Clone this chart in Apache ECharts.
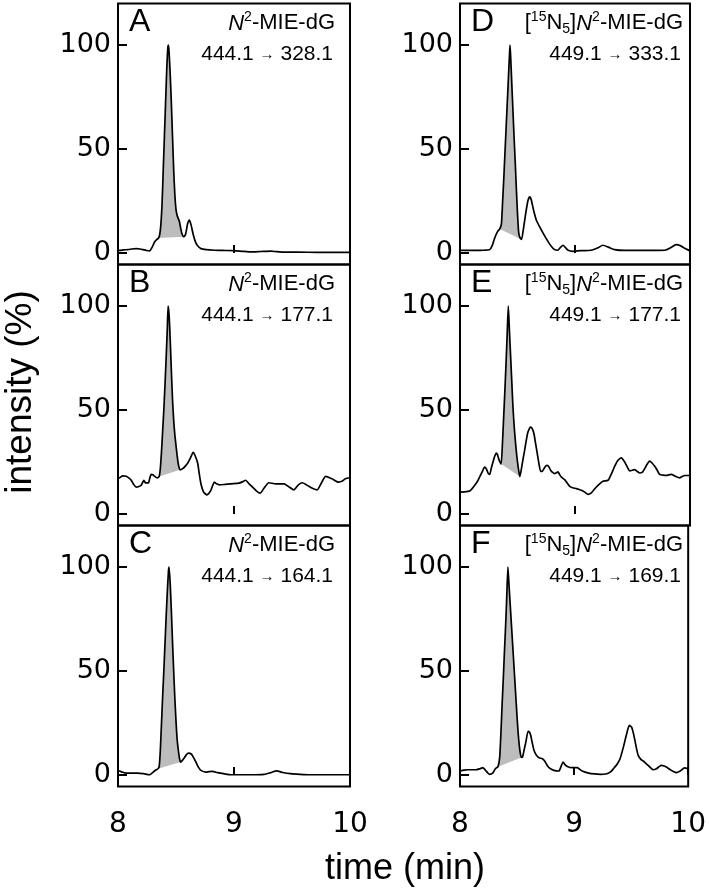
<!DOCTYPE html>
<html><head><meta charset="utf-8">
<script src="https://cdn.jsdelivr.net/npm/echarts@6/dist/echarts.min.js"></script>
<style>html,body{margin:0;padding:0;background:#fff}#c{width:709px;height:891px}</style>
</head><body><div id="c"></div>
<script>
// ---------- data (time in min, intensity in %) ----------
const traceA = [[8.00,1.4],[8.014,1.25],[8.05,1.5],[8.086,1.6],[8.12,1.9],[8.157,2.1],[8.19,1.9],[8.215,1.6],[8.245,1.2],[8.272,1.0],[8.295,2.8],[8.315,5.3],[8.335,6.5],[8.35,7.2],[8.36,9],[8.37,14],[8.38,24],[8.39,40],[8.40,56],[8.41,72],[8.42,88],[8.43,99],[8.435,100],[8.44,97],[8.45,86],[8.46,72],[8.47,56],[8.48,40],[8.49,28],[8.50,21],[8.51,18],[8.52,16.5],[8.53,15],[8.54,12],[8.55,9.5],[8.565,7.8],[8.58,8.6],[8.59,11],[8.60,14],[8.615,15.8],[8.63,13.5],[8.65,8.5],[8.67,5],[8.69,3.2],[8.715,2.1],[8.76,1.6],[8.83,1.3],[8.9,1.2],[9.0,1.1],[9.07,0.8],[9.144,0.5],[9.23,0.7],[9.316,0.9],[9.37,0.6],[9.43,0.4],[9.55,0.4],[9.72,0.3],[9.85,0.3],[10.0,0.3]];
const traceB = [[8.0,17.2],[8.014,17.4],[8.04,18.3],[8.072,18.1],[8.095,17.2],[8.114,16.2],[8.135,14.2],[8.157,12.9],[8.18,13.2],[8.2,13.8],[8.215,15.5],[8.223,16.2],[8.233,15.2],[8.243,14.9],[8.263,15.0],[8.275,17.5],[8.286,19.0],[8.30,18.8],[8.315,18.1],[8.338,17.4],[8.355,18],[8.365,22],[8.375,30],[8.385,40],[8.395,50],[8.405,62],[8.415,75],[8.425,89],[8.432,100],[8.44,96],[8.45,84],[8.46,69],[8.47,55],[8.48,45],[8.49,38],[8.50,33],[8.51,28],[8.52,24],[8.535,21.2],[8.558,21.8],[8.58,23],[8.60,24.4],[8.625,27],[8.648,29.6],[8.665,28],[8.687,24.4],[8.70,19.5],[8.715,14.5],[8.738,10.5],[8.767,9.2],[8.785,10],[8.80,11.3],[8.815,13.5],[8.83,15.3],[8.85,14.5],[8.873,14],[8.92,14.2],[8.973,14.5],[9.044,14.8],[9.075,15.5],[9.1,16.2],[9.13,14.5],[9.16,12.9],[9.195,11],[9.225,10],[9.26,12.5],[9.30,15],[9.36,14.5],[9.43,14.5],[9.475,13],[9.516,11.6],[9.555,14],[9.588,15],[9.645,13.3],[9.68,12.2],[9.717,11.6],[9.75,14.5],[9.79,18.1],[9.845,16.9],[9.9,15.3],[9.935,15.8],[9.96,16.9],[10.0,17.4]];
const traceC = [[8.0,2.0],[8.014,1.9],[8.04,1.3],[8.07,0.9],[8.12,0.9],[8.17,0.9],[8.22,0.6],[8.272,0.1],[8.295,1.0],[8.315,1.9],[8.33,2.5],[8.345,3.0],[8.355,4],[8.365,12],[8.375,25],[8.385,38],[8.395,50],[8.405,63],[8.415,76],[8.425,88],[8.435,98],[8.44,100],[8.45,92],[8.46,79],[8.47,64],[8.48,50],[8.49,37],[8.50,26],[8.51,17],[8.52,12],[8.53,8],[8.54,6.2],[8.555,7],[8.572,8.3],[8.59,9.8],[8.607,10.5],[8.62,10.4],[8.635,9.9],[8.655,8],[8.672,6.2],[8.69,4],[8.715,2.2],[8.758,1.4],[8.785,1.6],[8.815,1.7],[8.858,1.1],[8.92,0.5],[8.973,0.1],[9.06,0.1],[9.144,0.1],[9.26,0.3],[9.31,1.0],[9.368,2.0],[9.42,1.2],[9.488,0.6],[9.57,0.3],[9.66,0.1],[9.8,0.1],[10.0,0.1]];
const traceD = [[8.0,1.3],[8.05,1.25],[8.10,1.2],[8.157,1.25],[8.21,1.3],[8.258,1.6],[8.28,3.5],[8.30,6.9],[8.315,9.0],[8.33,10.6],[8.345,11.5],[8.36,14],[8.37,24],[8.38,35],[8.39,47],[8.40,59],[8.41,71],[8.42,83],[8.43,95],[8.435,100],[8.44,95],[8.45,82],[8.46,69],[8.47,56],[8.48,44],[8.49,31],[8.50,19],[8.51,10],[8.52,7.5],[8.535,6.5],[8.55,11],[8.57,18.5],[8.59,25],[8.606,27],[8.62,25.5],[8.64,20.5],[8.664,15.7],[8.693,12.5],[8.72,9.8],[8.75,6.9],[8.79,3.5],[8.823,1.6],[8.85,1.3],[8.875,2.8],[8.896,3.7],[8.92,2.4],[8.94,1.3],[8.98,0.8],[9.05,1.1],[9.14,1.3],[9.2,2.5],[9.243,3.7],[9.29,2.8],[9.345,1.6],[9.43,1.2],[9.52,1.25],[9.65,1.2],[9.78,1.3],[9.83,2.5],[9.88,4.0],[9.92,3.4],[9.95,2.4],[10.0,1.0]];
const traceE = [[8.0,10.5],[8.04,10.6],[8.084,11.0],[8.105,12.2],[8.128,13.8],[8.15,15.5],[8.171,17.8],[8.195,20.5],[8.214,22.5],[8.229,21.7],[8.245,19.5],[8.258,19.0],[8.272,22],[8.287,25.0],[8.30,27.5],[8.316,29.3],[8.326,28.5],[8.336,26.6],[8.347,25],[8.358,24.0],[8.37,35],[8.38,47],[8.39,59],[8.40,72],[8.41,86],[8.42,100],[8.43,88],[8.44,76],[8.45,64],[8.46,52],[8.47,43],[8.48,36],[8.49,30],[8.50,25],[8.51,21],[8.52,18],[8.535,22],[8.55,27],[8.562,30.6],[8.575,35],[8.591,39.4],[8.614,41.8],[8.628,41],[8.643,38.6],[8.657,34],[8.672,29],[8.687,24],[8.701,20.5],[8.715,20.5],[8.73,21.8],[8.745,23],[8.759,23.4],[8.775,22.5],[8.788,21],[8.805,20],[8.823,19.4],[8.838,19.8],[8.852,20.2],[8.866,19],[8.88,17.8],[8.91,16.5],[8.93,15],[8.954,13.3],[8.98,12.6],[9.012,12.2],[9.055,11.4],[9.085,10.5],[9.113,9.4],[9.142,10.1],[9.17,12],[9.2,13.8],[9.243,15.7],[9.287,16.2],[9.31,18.5],[9.33,21],[9.35,23.5],[9.374,25.8],[9.403,27.0],[9.432,25],[9.455,22.5],[9.475,20.7],[9.497,21],[9.519,21.3],[9.54,20.5],[9.562,19.7],[9.585,20],[9.606,21.8],[9.628,24],[9.649,25.4],[9.67,24.5],[9.693,22.9],[9.715,21],[9.736,19],[9.765,18.7],[9.794,18.5],[9.815,18.8],[9.838,19],[9.87,18.2],[9.91,17.4],[9.93,18],[9.954,18.5],[10.0,18.5]];
const traceF = [[8.0,1.9],[8.035,2.3],[8.07,2.5],[8.142,2.5],[8.175,3.0],[8.2,3.5],[8.215,2.8],[8.229,1.9],[8.245,0.9],[8.258,0.3],[8.287,0.9],[8.31,3.0],[8.333,4.0],[8.348,8.6],[8.36,22],[8.37,35],[8.38,47],[8.39,60],[8.40,72],[8.41,86],[8.42,100],[8.43,91],[8.44,82],[8.45,73],[8.46,64],[8.47,55],[8.48,46],[8.49,37],[8.50,28],[8.51,20],[8.52,14],[8.53,10],[8.538,8.4],[8.548,8.6],[8.562,12],[8.577,15.8],[8.597,21],[8.61,20.5],[8.62,19],[8.635,15],[8.649,11.8],[8.67,9.5],[8.693,8.3],[8.722,7.8],[8.742,6.7],[8.76,5],[8.78,3.5],[8.823,2.2],[8.867,1.9],[8.885,4],[8.904,6.2],[8.92,5],[8.94,4.1],[8.983,3.5],[9.026,3.5],[9.05,2.7],[9.07,1.9],[9.128,0.9],[9.18,0.5],[9.229,0.3],[9.287,0.6],[9.32,1.5],[9.345,3.0],[9.375,5],[9.403,7.8],[9.432,13.4],[9.461,19.8],[9.484,23.8],[9.504,23],[9.52,20],[9.533,16.6],[9.548,12.5],[9.562,9.4],[9.585,7.5],[9.606,6.7],[9.63,5.5],[9.649,4.6],[9.67,3.5],[9.693,2.5],[9.722,3.0],[9.745,4],[9.765,4.6],[9.79,4.3],[9.809,3.8],[9.83,3],[9.852,2.2],[9.875,1.5],[9.896,1.1],[9.93,1.9],[9.968,3.4],[10.0,3.0]];

// integrated peak windows [start, end] (min)
const shadeA = [8.35, 8.565];
const shadeB = [8.355, 8.535];
const shadeC = [8.345, 8.54];
const shadeD = [8.345, 8.535];
const shadeE = [8.358, 8.52];
const shadeF = [8.333, 8.538];

const xTicks = [8, 9, 10];
const yTicks = [0, 50, 100];
const letters = ['A', 'B', 'C', 'D', 'E', 'F'];
const analyteUnlabeled = '{it|N}{sup|2}-MIE-dG';
const analyteLabeled = '[{sup|15}N{sub|5}]{it|N}{sup|2}-MIE-dG';
const transitions = ['444.1 {ar|→} 328.1', '444.1 {ar|→} 177.1', '444.1 {ar|→} 164.1', '449.1 {ar|→} 333.1', '449.1 {ar|→} 177.1', '449.1 {ar|→} 169.1'];
const xAxisName = 'time (min)';
const yAxisName = 'intensity (%)';

// ---------- layout ----------
const FONT = '"Liberation Sans", Arial, sans-serif';
const TICKFONT = '"DejaVu Sans", sans-serif';
const traces = [traceA, traceB, traceC, traceD, traceE, traceF];
const shades = [shadeA, shadeB, shadeC, shadeD, shadeE, shadeF];
const colLeft = [118, 460], colWidth = [232, 230];
const rowTop = [3.4, 264.4, 525.4], rowH = 261;

const grids = [], xAxes = [], yAxes = [], series = [], graphics = [];
for (let i = 0; i < 6; i++) {
  const col = Math.floor(i / 3), row = i % 3;
  const top = rowTop[row];
  grids.push({left: colLeft[col], top: top, width: colWidth[col], height: rowH,
    show: true, borderColor: '#000', borderWidth: 2, backgroundColor: 'transparent'});
  xAxes.push({type: 'value', gridIndex: i, min: xTicks[0], max: xTicks[xTicks.length - 1], interval: 1,
    axisLine: {show: false}, splitLine: {show: false},
    axisTick: {show: true, inside: true, length: 8, lineStyle: {color: '#000', width: 2}},
    axisLabel: {show: row === 2, margin: 24, fontSize: 28, color: '#000', fontFamily: TICKFONT}});
  yAxes.push({type: 'value', gridIndex: i, min: -5.5, max: 120,
    axisLine: {show: false}, splitLine: {show: false},
    axisTick: {show: true, inside: true, length: 9, customValues: yTicks, lineStyle: {color: '#000', width: 2}},
    axisLabel: {show: true, margin: 7, fontSize: 27, color: '#000', fontFamily: TICKFONT, customValues: yTicks}});
  const tr = traces[i], sh = shades[i];
  const poly = tr.filter(p => p[0] >= sh[0] - 1e-9 && p[0] <= sh[1] + 1e-9);
  series.push({type: 'custom', xAxisIndex: i, yAxisIndex: i, z: 1, clip: true, silent: true,
    data: poly,
    renderItem: (params, api) => {
      if (params.dataIndex !== 0) return null;
      const pts = poly.map(p => api.coord(p));
      return {type: 'polygon', shape: {points: pts}, style: {fill: '#bdbdbd'}};
    }});
  series.push({type: 'line', xAxisIndex: i, yAxisIndex: i, z: 3, data: tr, showSymbol: false,
    smooth: 0.2, lineStyle: {color: '#000', width: 1.7}, silent: true, animation: false});

  const right = col === 0 ? 335 : 683;
  const rich = {
    it: {fontStyle: 'italic', fontSize: 22, fontFamily: FONT, fill: '#000', lineHeight: 26},
    sup: {fontSize: 14, fontFamily: FONT, fill: '#000', verticalAlign: 'top', lineHeight: 14},
    sub: {fontSize: 14, fontFamily: FONT, fill: '#000', verticalAlign: 'bottom', lineHeight: 14}
  };
  graphics.push({type: 'text', x: right, y: top + 20, z: 10, style: {
    text: col === 0 ? analyteUnlabeled : analyteLabeled, rich: rich,
    fontSize: 22, fontFamily: FONT, fill: '#000', lineHeight: 26, align: 'right', verticalAlign: 'middle'}});
  graphics.push({type: 'text', x: right - 2, y: top + 51, z: 10, style: {
    text: transitions[i], fontSize: 21, fontFamily: FONT, fill: '#000', lineHeight: 24, align: 'right', verticalAlign: 'middle',
    rich: {ar: {fontSize: 15, fontFamily: FONT, fill: '#000', lineHeight: 24, verticalAlign: 'middle'}}}});
  graphics.push({type: 'text', x: col === 0 ? 129 : 471, y: top + 19, z: 10, style: {
    text: letters[i], fontSize: 32, fontFamily: FONT, fill: '#000', align: 'left', verticalAlign: 'middle'}});
}
graphics.push({type: 'text', x: 405, y: 869, style: {text: xAxisName, fontSize: 36, fontFamily: FONT, fill: '#000', align: 'center', verticalAlign: 'middle'}});
graphics.push({type: 'text', x: 21, y: 392, rotation: Math.PI / 2, style: {text: yAxisName, fontSize: 37, fontFamily: FONT, fill: '#000', align: 'center', verticalAlign: 'middle'}});

const chart = echarts.init(document.getElementById('c'), null, {renderer: 'canvas'});
chart.setOption({animation: false, backgroundColor: '#fff', grid: grids, xAxis: xAxes, yAxis: yAxes, series: series, graphic: graphics});
</script></body></html>
